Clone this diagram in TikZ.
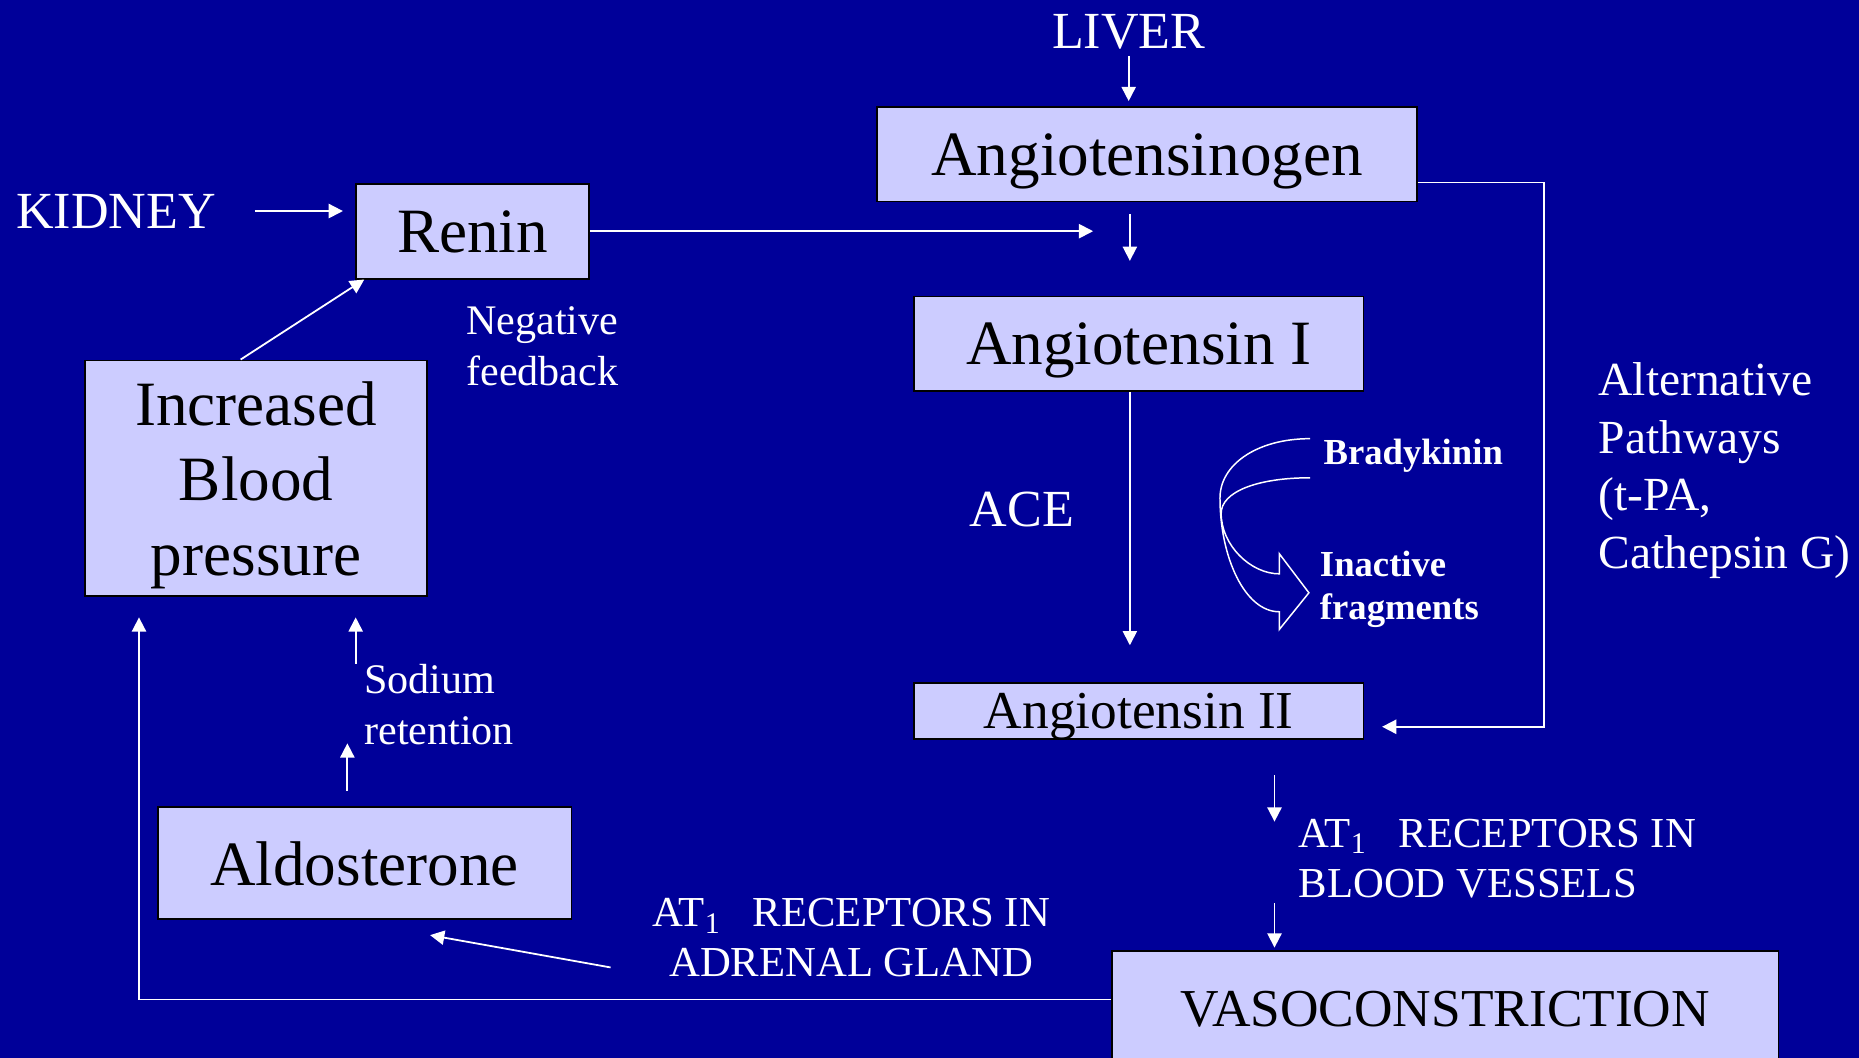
\documentclass[tikz,border=0pt]{standalone}
\usepackage{fontspec}
\setmainfont{Liberation Serif}
\usetikzlibrary{arrows.meta}
\definecolor{bgblue}{HTML}{000099}
\definecolor{boxfill}{HTML}{CCCCFF}
\begin{document}
\begin{tikzpicture}[x=0.2mm,y=-0.2mm,
  box/.style={draw=black,fill=boxfill,line width=0.3mm,inner sep=0pt,align=center,text depth=0pt,
    font=\fontsize{30.3}{36.1}\selectfont},
  boxmid/.style={box,font=\fontsize{25.6}{30}\selectfont},
  lbl/.style={text=white,inner sep=0pt,align=left},
  caps/.style={lbl,font=\fontsize{25}{30}\selectfont},
  alttext/.style={lbl,font=\fontsize{22.8}{27.6}\selectfont},
  note/.style={lbl,font=\fontsize{20.2}{24.5}\selectfont},
  receptor/.style={lbl,font=\fontsize{20.5}{23.9}\selectfont},
  brady/.style={lbl,font=\fontsize{17.6}{21}\selectfont\bfseries},
  arr/.style={draw=white,line width=0.3mm,-{Triangle[length=2.4mm,width=2.4mm]}}]
\fill[bgblue] (0,0) rectangle (1568,892);
\useasboundingbox (0,0) rectangle (1568,892);
% boxes
\node[box,minimum width=91mm,minimum height=16mm] (gen) at (967.5,130) {Angiotensinogen};
\node[box,minimum width=39.4mm,minimum height=16mm] (renin) at (398.5,195) {Renin};
\node[box,minimum width=75.8mm,minimum height=16mm] (angI) at (960.5,290) {Angiotensin I};
\node[box,minimum width=57.6mm,minimum height=39.8mm] (bp) at (216,403.5) {Increased\\Blood\\pressure};
\node[boxmid,minimum width=75.8mm,minimum height=9.4mm] (angII) at (960.5,599.5) {Angiotensin II};
\node[box,minimum width=69.8mm,minimum height=18.8mm] (aldo) at (307.5,728) {Aldosterone};
\node[boxmid,minimum width=112.4mm,minimum height=19.6mm] (vaso) at (1219,851) {VASOCONSTRICTION};
% labels
\node[caps] (liver) at (952,27) {LIVER};
\node[caps] (kidney) at (98,178) {KIDNEY};
\node[caps] (ace) at (862,430) {ACE};
\node[alttext,anchor=west] (alt) at (1348,397) {Alternative\\Pathways\\(t-PA,\\Cathepsin G)};
\node[note,anchor=west] (negfb) at (393,292) {Negative\\feedback};
\node[note,anchor=west] (sodium) at (307,594) {Sodium\\retention};
\node[receptor,anchor=west] (vessels) at (1095,724) {AT\textsubscript{1}\hspace{0.75em}RECEPTORS IN\\BLOOD VESSELS};
\node[receptor,align=center] (adrenal) at (718,791) {AT\textsubscript{1}\hspace{0.75em}RECEPTORS IN\\ADRENAL GLAND};
\node[brady,anchor=west] (bradyk) at (1116,384) {Bradykinin};
\node[brady,anchor=west] (frag) at (1113,497) {Inactive\\fragments};
% free ends
\coordinate (genout) at (953,220);
\coordinate (reninout) at (922,195);
\coordinate (altx) at (1302,400);
\coordinate (vesa) at (1075,693);
\coordinate (vesb) at (1075,762);
\coordinate (soda) at (300,560);
\coordinate (sodb) at (293,627);
\coordinate (adr) at (515,816);
% connectors
\draw[arr,shorten <=1mm,shorten >=0.8mm] (liver.south) -- (liver.south |- gen.north);
\draw[arr,shorten <=2mm] (gen.south -| genout) -- (genout);
\draw[arr,shorten <=6.5mm,shorten >=2mm] (kidney.east) -- (renin.west |- kidney.east);
\draw[arr] (renin.east) -- (reninout);
\draw[arr,shorten >=6.2mm] (angI.south -| genout) -- (angII.north -| genout);
\draw[arr,shorten >=3mm] ([yshift=-4.8mm]gen.east) -| (altx) |- ([yshift=-2.7mm]angII.east);
\draw[arr] ([xshift=-2.6mm]bp.north) -- ([xshift=1.6mm]renin.south west);
\draw[arr,shorten <=6mm] (angII.south -| vesa) -- (vesa);
\draw[arr,shorten >=0.4mm] (vesb) -- (vesb |- vaso.north);
\draw[arr,shorten >=3.4mm] ([yshift=1.6mm]vaso.west) -| ([xshift=9.2mm]bp.south west);
\draw[arr,shorten >=3.4mm] (soda) -- (soda |- bp.south);
\draw[arr,shorten <=2.6mm] (aldo.north -| sodb) -- (sodb);
\draw[arr] (adr) -- ([xshift=-24mm,yshift=-2.6mm]aldo.south east);
% bradykinin curved arrow
\draw[white,line width=0.25mm,line join=miter] (1105,370) .. controls (1060,370) and (1029,392) .. (1029,420)
  .. controls (1029,470) and (1050,516) .. (1079,516) -- (1079,531) -- (1104,500) -- (1079,467) -- (1079,484)
  .. controls (1055,484) and (1030,460) .. (1030,433) .. controls (1030,415) and (1060,403) .. (1105,403);
\end{tikzpicture}
\end{document}
